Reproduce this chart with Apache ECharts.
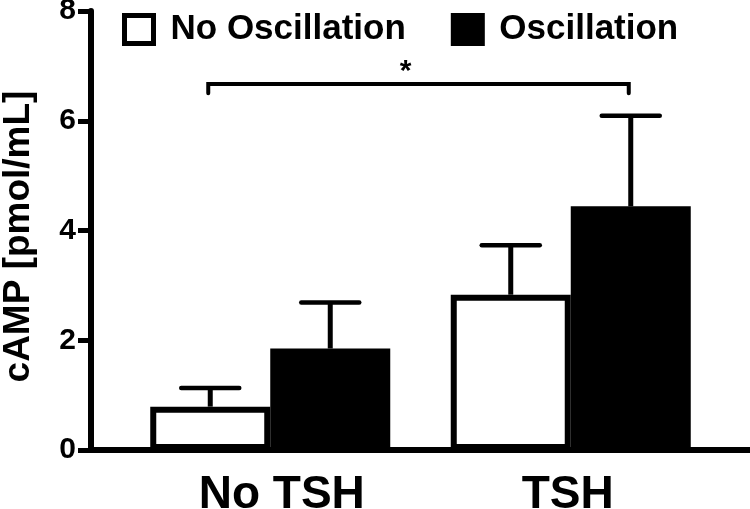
<!DOCTYPE html>
<html>
<head>
<meta charset="utf-8">
<script src="https://cdn.jsdelivr.net/npm/echarts@6/dist/echarts.min.js"></script>
<style>html,body{margin:0;padding:0;background:#fff}#c{width:750px;height:509px}</style>
</head>
<body>
<div id="c"></div>
<script>
// ---- data ----
const categories = ['No TSH', 'TSH'];
const seriesNames = ['No Oscillation', 'Oscillation'];
const noOscMean = [0.79, 2.83];
const noOscUpper = [1.13, 3.73];
const oscMean = [1.85, 4.44];
const oscUpper = [2.69, 6.09];
const yTicks = [0, 2, 4, 6, 8];
const bracketValues = [6.67, 6.50];   // bracket line, end of drop ticks
const bracketEnds = [[0, 0], [1, 1]]; // [category index, series index]
const starText = '*';
const starValue = 6.90;

const FONT = 'Liberation Sans, Arial, Helvetica, sans-serif';
const BAR_W = 120;

const chart = echarts.init(document.getElementById('c'), null, {renderer: 'canvas'});

function errRender(sign) {
  return function (params, api) {
    const c = api.value(0);
    const base = api.coord([c, api.value(1)]);
    const top = api.coord([c, api.value(2)]);
    const x = base[0] + sign * BAR_W / 2;
    return {
      type: 'group',
      children: [
        {type: 'line', shape: {x1: x, y1: base[1], x2: x, y2: top[1]}, style: {stroke: '#000', lineWidth: 5}},
        {type: 'line', shape: {x1: x - 29, y1: top[1], x2: x + 29, y2: top[1]}, style: {stroke: '#000', lineWidth: 4.5, lineCap: 'round'}}
      ]
    };
  };
}

function bracketRender(params, api) {
  const sgn = s => (s === 0 ? -1 : 1);
  const a = api.coord([bracketEnds[0][0], bracketValues[0]]);
  const b = api.coord([bracketEnds[1][0], bracketValues[0]]);
  const aEnd = api.coord([bracketEnds[0][0], bracketValues[1]]);
  const xa = a[0] + sgn(bracketEnds[0][1]) * BAR_W / 2 - 2;
  const xb = b[0] + sgn(bracketEnds[1][1]) * BAR_W / 2 - 2;
  const star = api.coord([0, starValue]);
  return {
    type: 'group',
    children: [
      {type: 'polyline', shape: {points: [[xa, aEnd[1]], [xa, a[1]], [xb, a[1]], [xb, aEnd[1]]]},
       style: {stroke: '#000', lineWidth: 4, fill: null, lineCap: 'round', lineJoin: 'miter'}},
      {type: 'text', x: (xa + xb) / 2 - 13, y: star[1],
       style: {text: starText, fill: '#000', font: 'bold 30px ' + FONT, align: 'center', verticalAlign: 'middle'}}
    ]
  };
}

const option = {
  backgroundColor: '#fff',
  animation: false,
  textStyle: {fontFamily: FONT},
  grid: [
    {left: 91, right: 0, top: 11, bottom: 59, containLabel: false, outerBoundsMode: 'none'},
    {left: 120, right: 29, top: 11, bottom: 59, containLabel: false, outerBoundsMode: 'none'}
  ],
  legend: {
    data: seriesNames,
    left: 117,
    top: 7,
    itemWidth: 29,
    itemHeight: 28,
    itemGap: 45,
    icon: 'rect',
    itemStyle: {borderWidth: 5, borderColor: '#000'},
    textStyle: {fontSize: 35, fontWeight: 'bold', color: '#000', fontFamily: FONT, padding: [2, 0, 0, 12]},
    selectedMode: false
  },
  xAxis: [
    {gridIndex: 0, type: 'value', min: 0, max: 1, axisLine: {show: true, lineStyle: {color: '#000', width: 6}},
     axisTick: {show: false}, axisLabel: {show: false}, splitLine: {show: false}},
    {gridIndex: 1, type: 'category', data: categories, axisLine: {show: false}, axisTick: {show: false},
     axisLabel: {
       margin: 22,
       formatter: (v, i) => (i === 0 ? '{a|' + v + '}' : '{b|' + v + '}'),
       rich: {
         a: {fontSize: 46, fontWeight: 'bold', color: '#000', fontFamily: FONT, padding: [0, 0, 0, 23]},
         b: {fontSize: 46, fontWeight: 'bold', color: '#000', fontFamily: FONT, padding: [0, 6, 0, 0]}
       }
     }}
  ],
  yAxis: [
    {gridIndex: 0, type: 'value', min: yTicks[0], max: yTicks[yTicks.length - 1], interval: yTicks[1] - yTicks[0],
     name: 'cAMP [pmol/mL]', nameLocation: 'middle', nameRotate: 90, nameGap: 54,
     nameTextStyle: {fontSize: 37, fontWeight: 'bold', color: '#000', fontFamily: FONT, padding: [0, 12, 0, 0]},
     axisLine: {show: true, lineStyle: {color: '#000', width: 6}},
     axisTick: {show: true, length: 13, lineStyle: {color: '#000', width: 5}},
     axisLabel: {fontSize: 30, fontWeight: 'bold', color: '#000', fontFamily: FONT, margin: 15, padding: [3, 0, 0, 0]},
     splitLine: {show: false}},
    {gridIndex: 1, type: 'value', min: yTicks[0], max: yTicks[yTicks.length - 1], show: false, splitLine: {show: false}}
  ],
  series: [
    {name: seriesNames[0], type: 'bar', xAxisIndex: 1, yAxisIndex: 1, data: noOscMean,
     barWidth: BAR_W, barGap: '0%',
     itemStyle: {color: '#fff', borderColor: '#000', borderWidth: 6}},
    {name: seriesNames[1], type: 'bar', xAxisIndex: 1, yAxisIndex: 1, data: oscMean,
     barWidth: BAR_W, barGap: '0%',
     itemStyle: {color: '#000', borderColor: '#000', borderWidth: 5}},
    {name: 'err0', type: 'custom', xAxisIndex: 1, yAxisIndex: 1, renderItem: errRender(-1),
     data: categories.map((c, i) => [i, noOscMean[i], noOscUpper[i]]), z: 5},
    {name: 'err1', type: 'custom', xAxisIndex: 1, yAxisIndex: 1, renderItem: errRender(1),
     data: categories.map((c, i) => [i, oscMean[i], oscUpper[i]]), z: 5},
    {name: 'bracket', type: 'custom', xAxisIndex: 1, yAxisIndex: 1, renderItem: bracketRender,
     data: [[0, bracketValues[0]]], z: 5}
  ]
};
chart.setOption(option);
</script>
</body>
</html>
